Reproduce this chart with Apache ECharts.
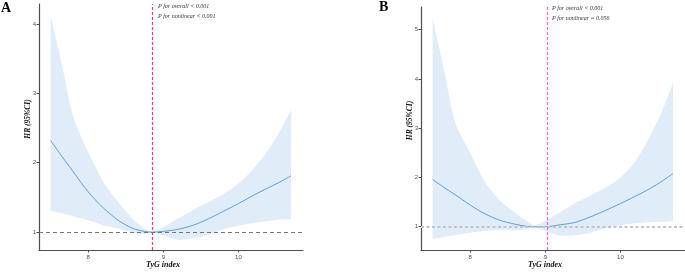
<!DOCTYPE html>
<html>
<head>
<meta charset="utf-8">
<script src="https://cdn.jsdelivr.net/npm/echarts@6/dist/echarts.min.js"></script>
<style>
  html, body { margin: 0; padding: 0; background: #fff; }
  #chart { width: 685px; height: 274px; }
</style>
</head>
<body>
<div id="chart"></div>
<script>
// TyG index grid (same for both panels)
const tyg = [7.5, 7.65, 7.8, 8.0, 8.2, 8.4, 8.6, 8.75, 8.85, 9.0, 9.2, 9.4, 9.6, 9.8, 10.0, 10.2, 10.4, 10.55, 10.7]

// panel A
const hrA = [2.32, 2.09, 1.87, 1.58, 1.35, 1.17, 1.05, 1.01, 1.0, 1.01, 1.04, 1.10, 1.19, 1.30, 1.41, 1.53, 1.64, 1.72, 1.81]
const upA = [4.12, 3.41, 2.66, 2.15, 1.73, 1.43, 1.18, 1.05, 1.0, 1.07, 1.20, 1.32, 1.43, 1.55, 1.70, 1.91, 2.19, 2.45, 2.76]
const loA = [1.31, 1.27, 1.23, 1.17, 1.10, 1.05, 0.99, 0.97, 1.0, 0.95, 0.89, 0.91, 0.96, 1.04, 1.09, 1.13, 1.16, 1.18, 1.19]
const knotA = 8.85
const textA = ['P for overall < 0.001', 'P for nonlinear < 0.001']

// panel B
const hrB = [1.96, 1.80, 1.65, 1.44, 1.26, 1.13, 1.05, 1.01, 1.0, 1.0, 1.04, 1.09, 1.20, 1.33, 1.47, 1.62, 1.78, 1.92, 2.08]
const upB = [5.23, 4.19, 3.11, 2.49, 1.90, 1.53, 1.28, 1.12, 1.03, 1.12, 1.30, 1.48, 1.63, 1.79, 2.0, 2.33, 2.85, 3.33, 3.92]
const loB = [0.75, 0.79, 0.83, 0.88, 0.92, 0.94, 0.93, 0.95, 0.99, 0.92, 0.82, 0.83, 0.88, 0.97, 1.03, 1.07, 1.09, 1.10, 1.11]
const knotB = 9.02
const textB = ['P for overall < 0.001', 'P for nonlinear = 0.056']

const xTicks = [8, 9, 10]
const yTicksA = [1, 2, 3, 4]
const yTicksB = [1, 2, 3, 4, 5]

const serif = 'Liberation Serif'
const sans = 'Liberation Sans'

// filled CI band as one polygon, corners kept sharp by doubling end points
function bandRender(xs, lo, up) {
  return function (params, api) {
    if (params.dataIndex !== 0) return
    let upper = xs.map((x, i) => api.coord([x, up[i]]))
    let lower = xs.map((x, i) => api.coord([x, lo[i]])).reverse()
    let n = xs.length - 1
    let pts = [upper[0]].concat(upper, [upper[n], lower[0]], lower, [lower[n]])
    return {
      type: 'polygon',
      shape: { points: pts, smooth: 0.25 },
      style: { fill: '#e0ecf7' },
      silent: true
    }
  }
}

function xAxisOf(idx) {
  return {
    type: 'value',
    gridIndex: idx,
    min: 7.345,
    max: 10.86,
    name: 'TyG index',
    nameLocation: 'middle',
    nameGap: 11,
    nameMoveOverlap: false,
    nameTextStyle: { fontFamily: serif, fontStyle: 'italic', fontWeight: 'bold', fontSize: 8, color: '#111', padding: [0, 16, 0, 0] },
    axisLine: { lineStyle: { color: '#4d4d4d', width: 1.2 } },
    axisTick: { customValues: xTicks, length: 2.5, lineStyle: { color: '#4d4d4d' } },
    axisLabel: { customValues: xTicks, fontFamily: sans, fontSize: 6, color: '#4d4d4d', margin: 4.5 },
    splitLine: { show: false }
  }
}

function yAxisOf(idx, min, max, ticks) {
  return {
    type: 'value',
    gridIndex: idx,
    min: min,
    max: max,
    name: 'HR (95%CI)',
    nameLocation: 'middle',
    nameGap: 7,
    nameMoveOverlap: false,
    nameTextStyle: { fontFamily: serif, fontStyle: 'italic', fontWeight: 'bold', fontSize: 7.5, color: '#111', padding: [0, 0, 0, 16] },
    axisLine: { show: true, lineStyle: { color: '#4d4d4d', width: 1.2 } },
    axisTick: { show: true, customValues: ticks, length: 2.5, lineStyle: { color: '#4d4d4d' } },
    axisLabel: { customValues: ticks, fontFamily: sans, fontSize: 6, color: '#4d4d4d', margin: 3 },
    splitLine: { show: false }
  }
}

function panelSeries(idx, hr, lo, up, knot, pink, refStyle) {
  return [
    {
      type: 'custom',
      xAxisIndex: idx,
      yAxisIndex: idx,
      data: tyg.map((x, i) => [x, lo[i], up[i]]),
      encode: { x: 0, y: [1, 2] },
      renderItem: bandRender(tyg, lo, up),
      z: 1
    },
    {
      type: 'line',
      xAxisIndex: idx,
      yAxisIndex: idx,
      data: tyg.map((x, i) => [x, hr[i]]),
      smooth: 0.3,
      showSymbol: false,
      lineStyle: { color: '#5b9fd8', width: 1 },
      z: 3,
      markLine: {
        silent: true,
        symbol: 'none',
        label: { show: false },
        animation: false,
        data: [
          { yAxis: 1, lineStyle: refStyle },
          { xAxis: knot, lineStyle: { color: pink, width: 1.2, type: [3, 2] } }
        ]
      }
    }
  ]
}

function notes(x, y, lines) {
  return lines.map((t, i) => ({
    type: 'text',
    left: x,
    top: y + i * 10.4,
    style: { text: t, fontFamily: serif, fontStyle: 'italic', fontSize: 6, fill: '#333' }
  }))
}

const chart = echarts.init(document.getElementById('chart'))
chart.setOption({
  animation: false,
  grid: [
    { left: 39, top: 4, width: 264, height: 251 },
    { left: 421, top: 7, width: 264, height: 251 }
  ],
  xAxis: [xAxisOf(0), xAxisOf(1)],
  yAxis: [yAxisOf(0, 0.742, 4.286, yTicksA), yAxisOf(1, 0.528, 5.46, yTicksB)],
  series: [].concat(
    panelSeries(0, hrA, loA, upA, knotA, '#e8368f', { color: '#555', width: 0.8, type: [4, 3] }),
    panelSeries(1, hrB, loB, upB, knotB, '#ff66c4', { color: '#c4c4c4', width: 2, type: [3, 2.5] })
  ),
  graphic: [
    { type: 'text', left: 1, top: 1, style: { text: 'A', fontFamily: serif, fontWeight: 'bold', fontSize: 14, fill: '#000' } },
    { type: 'text', left: 379, top: 0, style: { text: 'B', fontFamily: serif, fontWeight: 'bold', fontSize: 14, fill: '#000' } }
  ].concat(notes(158, 3, textA), notes(552, 5.5, textB))
})
</script>
</body>
</html>
